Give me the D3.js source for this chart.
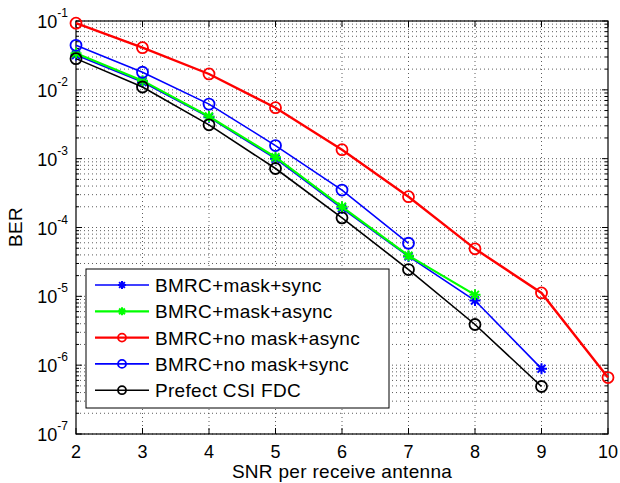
<!DOCTYPE html>
<html>
<head>
<meta charset="utf-8">
<script src="https://cdn.jsdelivr.net/npm/d3@7"></script>
<style>
  body { margin: 0; background: #fff; }
  text { font-family: "Liberation Sans", Arial, sans-serif; }
</style>
</head>
<body>
<svg id="svg" width="620" height="483"></svg>
<script>
// data
var snr = [2, 3, 4, 5, 6, 7, 8, 9, 10];
var maskSync     = [0.032, 0.013, 0.0040, 0.00100, 1.9e-4, 3.8e-5, 8.7e-6, 8.9e-7];
var maskAsync    = [0.034, 0.0136, 0.0041, 0.00105, 2.0e-4, 3.9e-5, 1.05e-5];
var noMaskAsync  = [0.093, 0.041, 0.017, 0.0055, 0.00135, 2.8e-4, 4.9e-5, 1.12e-5, 6.6e-7];
var noMaskSync   = [0.0443, 0.018, 0.0062, 0.00155, 3.5e-4, 5.9e-5];
var perfectCsi   = [0.0284, 0.011, 0.0031, 7.2e-4, 1.38e-4, 2.45e-5, 3.9e-6, 4.9e-7];
var xTicks = [2, 3, 4, 5, 6, 7, 8, 9, 10];
var yExps = [-1, -2, -3, -4, -5, -6, -7];

var series = [
  {name: "BMRC+mask+sync", vals: maskSync, color: "#0000ff", marker: "star", width: 1.6},
  {name: "BMRC+mask+async", vals: maskAsync, color: "#00ff00", marker: "star", width: 2.2},
  {name: "BMRC+no mask+async", vals: noMaskAsync, color: "#ff0000", marker: "circle", width: 2.4},
  {name: "BMRC+no mask+sync", vals: noMaskSync, color: "#0000ff", marker: "circle", width: 1.6},
  {name: "Prefect CSI FDC", vals: perfectCsi, color: "#000000", marker: "circle", width: 1.6}
];

var margin = {left: 76, top: 21, right: 12, bottom: 49};
var width = 620 - margin.left - margin.right;
var height = 483 - margin.top - margin.bottom;

var svg = d3.select("#svg");
var container = svg.append("g").attr("transform", `translate(${margin.left}, ${margin.top})`);

var xScale = d3.scaleLinear().domain([2, 10]).range([0, width]);
var yScale = d3.scaleLog().domain([1e-7, 1e-1]).range([height, 0]);

// minor + major log values
var minorVals = [];
for (var e = -7; e < -1; e++) {
  for (var m = 2; m <= 9; m++) minorVals.push(m * Math.pow(10, e));
}
var majorVals = yExps.map(d => Math.pow(10, d));

var grid = container.append("g")
  .attr("stroke", "#333").attr("stroke-width", 0.8).attr("stroke-dasharray", "1,3");
grid.selectAll(".hg")
  .data(minorVals.concat(majorVals))
  .enter().append("line")
  .attr("x1", 0).attr("x2", width)
  .attr("y1", d => yScale(d)).attr("y2", d => yScale(d));
grid.selectAll(".vg")
  .data(xTicks.slice(1, -1))
  .enter().append("line")
  .attr("y1", 0).attr("y2", height)
  .attr("x1", d => xScale(d)).attr("x2", d => xScale(d));

// ticks inside on all four sides
var tk = container.append("g").attr("stroke", "#000").attr("stroke-width", 1);
minorVals.forEach(v => {
  tk.append("line").attr("x1", 0).attr("x2", 3).attr("y1", yScale(v)).attr("y2", yScale(v));
  tk.append("line").attr("x1", width).attr("x2", width - 3).attr("y1", yScale(v)).attr("y2", yScale(v));
});
majorVals.forEach(v => {
  tk.append("line").attr("x1", 0).attr("x2", 6).attr("y1", yScale(v)).attr("y2", yScale(v));
  tk.append("line").attr("x1", width).attr("x2", width - 6).attr("y1", yScale(v)).attr("y2", yScale(v));
});
xTicks.forEach(v => {
  tk.append("line").attr("y1", height).attr("y2", height - 6).attr("x1", xScale(v)).attr("x2", xScale(v));
  tk.append("line").attr("y1", 0).attr("y2", 6).attr("x1", xScale(v)).attr("x2", xScale(v));
});

container.append("rect")
  .attr("width", width).attr("height", height)
  .attr("fill", "none").attr("stroke", "#000").attr("stroke-width", 1.2);

// y tick labels 10^k
yExps.forEach(k => {
  var t = container.append("text")
    .attr("x", -8).attr("y", yScale(Math.pow(10, k)) + 7)
    .attr("text-anchor", "end")
    .attr("font-size", 18);
  t.append("tspan").text("10");
  t.append("tspan").attr("dy", -11).attr("font-size", 12).text(k);
});

// x tick labels
container.selectAll(".xl")
  .data(xTicks)
  .enter().append("text")
  .attr("x", d => xScale(d)).attr("y", height + 24)
  .attr("text-anchor", "middle").attr("font-size", 18)
  .text(d => d);

svg.append("text")
  .attr("x", margin.left + width / 2).attr("y", 478)
  .attr("text-anchor", "middle").attr("font-size", 19).attr("letter-spacing", 0.3)
  .text("SNR per receive antenna");
svg.append("text")
  .attr("transform", "translate(22, 227) rotate(-90)")
  .attr("text-anchor", "middle").attr("font-size", 19).attr("letter-spacing", 0.3)
  .text("BER");

function drawMarker(g, kind, x, y, color, r) {
  if (kind === "circle") {
    g.append("circle").attr("cx", x).attr("cy", y).attr("r", r)
      .attr("fill", "none").attr("stroke", color).attr("stroke-width", 1.8);
  } else {
    var p = d3.path();
    p.moveTo(x - r, y); p.lineTo(x + r, y);
    p.moveTo(x, y - r); p.lineTo(x, y + r);
    var q = r * 0.72;
    p.moveTo(x - q, y - q); p.lineTo(x + q, y + q);
    p.moveTo(x - q, y + q); p.lineTo(x + q, y - q);
    g.append("path").attr("d", p.toString()).attr("stroke", color).attr("stroke-width", 2).attr("fill", "none");
  }
}

var line = d3.line().x((d, i) => xScale(snr[i])).y(d => yScale(d));

// draw in plotting order (later ones on top)
series.forEach(s => {
  var g = container.append("g");
  g.append("path").datum(s.vals)
    .attr("d", line)
    .attr("fill", "none").attr("stroke", s.color).attr("stroke-width", s.width);
  s.vals.forEach((v, i) => drawMarker(g, s.marker, xScale(snr[i]), yScale(v), s.color, 5.5));
});

// legend
var lg = svg.append("g").attr("transform", "translate(86, 269)");
lg.append("rect").attr("width", 303).attr("height", 139)
  .attr("fill", "#fff").attr("stroke", "#000").attr("stroke-width", 1);
series.forEach((s, i) => {
  var y = 16 + i * 26.3;
  lg.append("line").attr("x1", 9).attr("x2", 63).attr("y1", y).attr("y2", y)
    .attr("stroke", s.color).attr("stroke-width", s.width);
  drawMarker(lg, s.marker, 36, y, s.color, 4);
  lg.append("text").attr("x", 69).attr("y", y + 7).attr("font-size", 19)
    .attr("letter-spacing", 0.3).text(s.name);
});
</script>
</body>
</html>
